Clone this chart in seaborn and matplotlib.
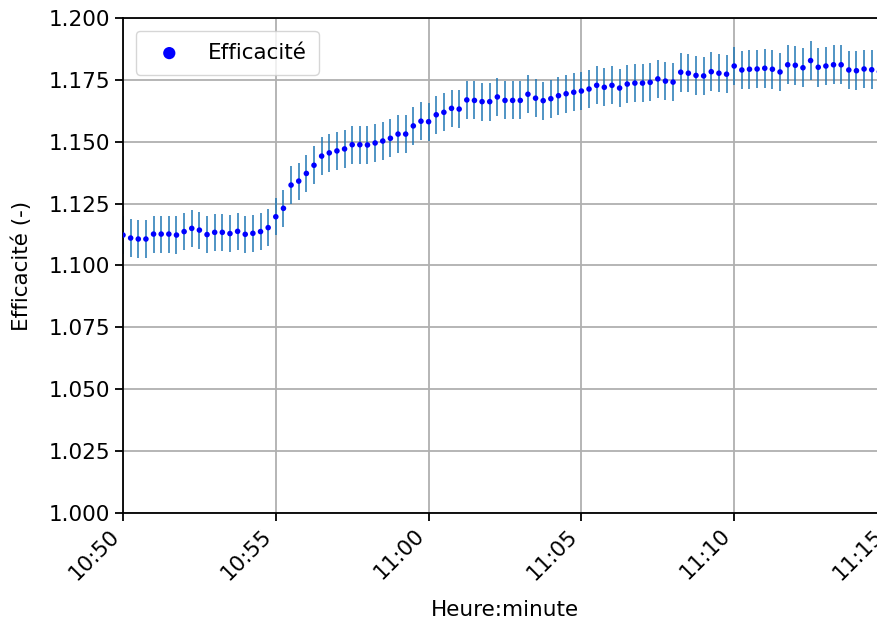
import matplotlib
matplotlib.use("Agg")
import matplotlib.pyplot as plt
import matplotlib.dates as mdates
import numpy as np
import pandas as pd
import seaborn as sns

start_time = "2021-01-01 10:50:00"
step = "15s"
efficacite = [
    1.1123, 1.1111, 1.1107, 1.1107, 1.1127, 1.1127, 1.1127, 1.1123, 1.1137, 1.1150,
    1.1143, 1.1125, 1.1134, 1.1134, 1.1129, 1.1138, 1.1126, 1.1130, 1.1137, 1.1153,
    1.1197, 1.1231, 1.1325, 1.1341, 1.1372, 1.1405, 1.1442, 1.1455, 1.1463, 1.1471,
    1.1488, 1.1488, 1.1487, 1.1495, 1.1503, 1.1514, 1.1531, 1.1531, 1.1564, 1.1583,
    1.1581, 1.1609, 1.1619, 1.1635, 1.1632, 1.1669, 1.1667, 1.1662, 1.1662, 1.1681,
    1.1667, 1.1667, 1.1667, 1.1692, 1.1676, 1.1666, 1.1674, 1.1686, 1.1694, 1.1700,
    1.1705, 1.1713, 1.1728, 1.1720, 1.1728, 1.1717, 1.1733, 1.1737, 1.1737, 1.1740,
    1.1754, 1.1745, 1.1741, 1.1781, 1.1777, 1.1768, 1.1766, 1.1783, 1.1777, 1.1773,
    1.1806, 1.1790, 1.1793, 1.1794, 1.1797, 1.1793, 1.1782, 1.1811, 1.1809, 1.1799,
    1.1828, 1.1801, 1.1806, 1.1811, 1.1811, 1.1790, 1.1787, 1.1794, 1.1791, 1.1783,
]
erreur = [
    0.0075, 0.0075, 0.0075, 0.0075, 0.0075, 0.0075, 0.0075, 0.0075, 0.0075, 0.0074,
    0.0075, 0.0075, 0.0075, 0.0075, 0.0075, 0.0075, 0.0075, 0.0075, 0.0075, 0.0075,
    0.0075, 0.0075, 0.0075, 0.0075, 0.0076, 0.0076, 0.0076, 0.0076, 0.0076, 0.0076,
    0.0076, 0.0076, 0.0076, 0.0076, 0.0076, 0.0076, 0.0076, 0.0076, 0.0076, 0.0076,
    0.0076, 0.0076, 0.0076, 0.0076, 0.0076, 0.0077, 0.0077, 0.0077, 0.0077, 0.0077,
    0.0077, 0.0077, 0.0077, 0.0077, 0.0077, 0.0077, 0.0077, 0.0077, 0.0077, 0.0077,
    0.0077, 0.0077, 0.0077, 0.0077, 0.0077, 0.0077, 0.0077, 0.0077, 0.0077, 0.0077,
    0.0077, 0.0077, 0.0077, 0.0078, 0.0078, 0.0078, 0.0078, 0.0078, 0.0078, 0.0078,
    0.0078, 0.0078, 0.0078, 0.0078, 0.0078, 0.0078, 0.0078, 0.0078, 0.0078, 0.0078,
    0.0078, 0.0078, 0.0078, 0.0078, 0.0078, 0.0078, 0.0078, 0.0078, 0.0078, 0.0078,
]
y_ticks = [1.000, 1.025, 1.050, 1.075, 1.100, 1.125, 1.150, 1.175, 1.200]
x_limits = ["2021-01-01 10:50:00", "2021-01-01 11:15:00"]

temps = pd.date_range(start_time, periods=len(efficacite), freq=step)
df = pd.DataFrame({"Heure": temps, "Efficacité": efficacite, "err": erreur})

sns.set_style("ticks", {"axes.grid": True, "grid.color": "#b0b0b0",
                        "axes.edgecolor": "black", "text.color": "black",
                        "xtick.color": "black", "ytick.color": "black",
                        "axes.labelcolor": "black"})
plt.rcParams["font.family"] = ["DejaVu Sans"]
fs = 15.5
plt.rcParams.update({"font.size": fs, "axes.linewidth": 1.3,
                     "xtick.major.width": 1.3, "ytick.major.width": 1.3,
                     "xtick.major.size": 5.5, "ytick.major.size": 5.5,
                     "xtick.direction": "out", "ytick.direction": "out"})

fig = plt.figure(figsize=(8.77, 6.21), dpi=100)
ax = fig.add_axes([123 / 877, 1 - 513 / 621, (887 - 123) / 877, (513 - 18) / 621])

ax.errorbar(df["Heure"], df["Efficacité"], yerr=df["err"], fmt="none",
            ecolor="#1f77b4", elinewidth=1.1, zorder=2)
sns.scatterplot(data=df, x="Heure", y="Efficacité", ax=ax, color="blue",
                s=16, edgecolor="none", label="Efficacité", zorder=3)

ax.set_xlim(pd.Timestamp(x_limits[0]), pd.Timestamp(x_limits[1]))
ax.set_ylim(y_ticks[0], y_ticks[-1])
ax.set_yticks(y_ticks)
ax.set_yticklabels([f"{v:.3f}" for v in y_ticks], fontsize=fs)
ax.xaxis.set_major_locator(mdates.MinuteLocator(byminute=range(0, 60, 5)))
ax.xaxis.set_major_formatter(mdates.DateFormatter("%H:%M"))
for lab in ax.get_xticklabels():
    lab.set_rotation(45)
    lab.set_ha("right")
    lab.set_fontsize(fs)
ax.grid(True, color="#b0b0b0", linewidth=1.3)
ax.set_axisbelow(True)
ax.set_xlabel("Heure:minute", fontsize=fs, labelpad=12)
ax.set_ylabel("Efficacité (-)", fontsize=fs, labelpad=12)
for sp in ax.spines.values():
    sp.set_visible(True)
    sp.set_color("black")
    sp.set_linewidth(1.3)

leg = ax.legend(loc="upper left", fontsize=fs, markerscale=2.2, frameon=True,
                fancybox=True, framealpha=0.8, edgecolor="#cccccc",
                borderpad=0.55, handletextpad=0.8, borderaxespad=0.6)

fig.savefig("out.png", dpi=100)
